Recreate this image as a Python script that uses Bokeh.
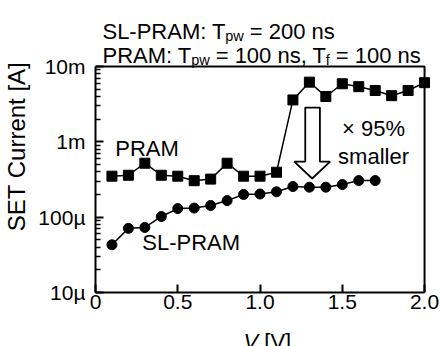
import json
import math
from bokeh.plotting import figure
from bokeh.layouts import column
from bokeh.models import Label, FixedTicker, CustomJSTickFormatter, Range1d
from bokeh.core.properties import value
from bokeh.embed import file_html
from bokeh.resources import INLINE

# ---------------- data ----------------
voltage = [0.1, 0.2, 0.3, 0.4, 0.5, 0.6, 0.7, 0.8, 0.9, 1.0,
           1.1, 1.2, 1.3, 1.4, 1.5, 1.6, 1.7, 1.8, 1.9, 2.0]
pram_current = [3.5e-4, 3.6e-4, 5.2e-4, 3.6e-4, 3.5e-4, 3.05e-4, 3.2e-4, 5.2e-4, 3.5e-4, 3.5e-4,
                3.95e-4, 3.6e-3, 6.2e-3, 4.0e-3, 5.9e-3, 5.4e-3, 4.8e-3, 4.1e-3, 4.8e-3, 6.1e-3]
sl_voltage = [0.1, 0.2, 0.3, 0.4, 0.5, 0.6, 0.7, 0.8, 0.9, 1.0,
              1.1, 1.2, 1.3, 1.4, 1.5, 1.6, 1.7]
sl_current = [4.3e-5, 7.1e-5, 7.3e-5, 1.02e-4, 1.3e-4, 1.32e-4, 1.43e-4, 1.66e-4, 2.0e-4, 2.03e-4,
              2.17e-4, 2.55e-4, 2.5e-4, 2.5e-4, 2.71e-4, 3.06e-4, 3.06e-4]

x_min, x_max = 0.0, 2.0
y_min, y_max = 1e-5, 1e-2
x_ticks = [0, 0.5, 1.0, 1.5, 2.0]
x_tick_labels = ["0", "0.5", "1.0", "1.5", "2.0"]
y_ticks = [1e-5, 1e-4, 1e-3, 1e-2]
y_tick_labels = ["10µ", "100µ", "1m", "10m"]

# hollow arrow outline (V, A)
arrow_x = [1.275, 1.364, 1.364, 1.426, 1.317, 1.208, 1.275]
arrow_y = [2.85e-3, 2.85e-3, 5.47e-4, 5.47e-4, 3.26e-4, 5.47e-4, 5.47e-4]

FONT = "Liberation Sans"
W_TOTAL, H_TOTAL = 440, 346
BOX_L, BOX_R, BOX_T, BOX_B = 93, 424, 66, 292     # visible plot box on the page
FRAME_R = 432                                      # bokeh frame extends a bit right of the box
XLAB_H = 26
MAIN_H = H_TOTAL - XLAB_H

px_per_x = (BOX_R - BOX_L) / (x_max - x_min)
px_per_dec = (BOX_B - BOX_T) / (math.log10(y_max) - math.log10(y_min))


def X(cx):
    return x_min + (cx - BOX_L) / px_per_x


def Y(cy):
    return 10 ** (math.log10(y_min) + (BOX_B - cy) / px_per_dec)


# ---------------- main figure ----------------
p = figure(width=W_TOTAL, height=MAIN_H, y_axis_type="log",
           x_range=Range1d(x_min, X(FRAME_R)), y_range=Range1d(y_min, Y(0)),
           output_backend="svg", toolbar_location=None, title_location=None,
           min_border_left=BOX_L, min_border_right=W_TOTAL - FRAME_R,
           min_border_top=0, min_border_bottom=MAIN_H - BOX_B)
p.background_fill_color = "white"
p.border_fill_color = "white"
p.outline_line_color = None
p.xgrid.visible = False
p.ygrid.visible = False

xa = p.xaxis[0]
xa.bounds = (x_min, x_max)
xa.ticker = FixedTicker(ticks=x_ticks, minor_ticks=[])
xa.formatter = CustomJSTickFormatter(code="""
const t = %s, l = %s;
for (let i = 0; i < t.length; i++) { if (Math.abs(t[i] - tick) < 1e-6) return l[i]; }
return "";
""" % (json.dumps(x_ticks), json.dumps(x_tick_labels)))
xa.major_tick_in = 8
xa.major_tick_out = 0
xa.minor_tick_in = 0
xa.minor_tick_out = 0
xa.axis_line_width = 2
xa.major_tick_line_width = 2
xa.major_label_text_font = FONT
xa.major_label_text_font_size = "21px"
xa.major_label_text_color = "black"
xa.major_label_standoff = 2

ya = p.yaxis[0]
ya.bounds = (y_min, y_max)
minor = [k * 10 ** d for d in (-5, -4, -3) for k in range(2, 10)]
ya.ticker = FixedTicker(ticks=y_ticks, minor_ticks=minor)
ya.formatter = CustomJSTickFormatter(code="""
const e = %s, l = %s;
const k = Math.round(Math.log10(tick));
for (let i = 0; i < e.length; i++) { if (e[i] === k) return l[i]; }
return "";
""" % (json.dumps([int(round(math.log10(t))) for t in y_ticks]), json.dumps(y_tick_labels)))
ya.major_tick_in = 8
ya.major_tick_out = 0
ya.minor_tick_in = 5
ya.minor_tick_out = 0
ya.axis_line_width = 2
ya.major_tick_line_width = 2
ya.minor_tick_line_width = 1.5
ya.major_label_text_font = FONT
ya.major_label_text_font_size = "21px"
ya.major_label_text_color = "black"
ya.major_label_standoff = 10
ya.axis_label = "SET Current [A]"
ya.axis_label_text_font = FONT
ya.axis_label_text_font_size = "24px"
ya.axis_label_text_font_style = "normal"
ya.axis_label_text_color = "black"
ya.axis_label_standoff = 5

# top and right edges of the plot box
p.line([x_min, x_max, x_max], [y_max, y_max, y_min], line_color="black", line_width=2)

p.line(voltage, pram_current, line_color="black", line_width=1.5)
p.scatter(voltage, pram_current, marker="square", size=10,
          fill_color="black", line_color="black")
p.line(sl_voltage, sl_current, line_color="black", line_width=1.5)
p.scatter(sl_voltage, sl_current, marker="circle", size=10,
          fill_color="black", line_color="black")
p.patch(arrow_x, arrow_y, fill_color="white", line_color="black", line_width=1.8)


def dlabel(x, y, text, align="left"):
    p.add_layout(Label(x=x, y=y, text=text, text_font=FONT, text_font_size="22px",
                       text_color="black", text_align=align, text_baseline="middle"))


dlabel(0.12, 8.2e-4, "PRAM")
dlabel(0.284, 4.6e-5, "SL-PRAM")
dlabel(1.69, 1.5e-3, "× 95%", "center")
dlabel(1.69, 6.4e-4, "smaller", "center")

# ---------------- title with subscripts ----------------
W = {' ': 278, ',': 278, '-': 333, '.': 278, ':': 278, '=': 584, 'A': 667, 'L': 556,
     'M': 833, 'P': 667, 'R': 722, 'S': 667, 'T': 611, 'f': 278, 'n': 556, 'p': 556,
     's': 500, 'w': 722, 'V': 667, '[': 278, ']': 278}
for c in "0123456789":
    W[c] = 556


def width(s, size):
    return sum(W.get(c, 556) for c in s) * size / 1000.0


def split_lead(txt):
    s = txt.lstrip(" ")
    return txt[:len(txt) - len(s)], s


def put_main(cx, cy, text, size):
    p.text(x=[X(cx)], y=[Y(cy)], text=[text], text_font=value(FONT),
           text_font_size=value(f"{size}px"), text_color="black",
           text_align="left", text_baseline="alphabetic")


def rich_line(x0, base, parts, big=22, small=14.5, drop=4):
    x = x0
    for txt, sub in parts:
        size = small if sub else big
        lead, body = split_lead(txt)
        x += width(lead, size)
        put_main(x, base + (drop if sub else 0), body, size)
        x += width(body, size)


rich_line(100, 31, [("SL-PRAM: T", False), ("pw", True), (" = 200 ns", False)])
rich_line(100, 55, [("PRAM: T", False), ("pw", True), (" = 100 ns, T", False),
                    ("f", True), (" = 100 ns", False)])

# ---------------- x-axis label strip ----------------
xf = figure(width=W_TOTAL, height=XLAB_H, x_range=Range1d(BOX_L, FRAME_R),
            y_range=Range1d(0, XLAB_H),
            output_backend="svg", toolbar_location=None, title_location=None,
            x_axis_location=None, y_axis_location=None,
            min_border_left=BOX_L, min_border_right=W_TOTAL - FRAME_R,
            min_border_top=0, min_border_bottom=0)
xf.outline_line_color = None
xf.xgrid.visible = False
xf.ygrid.visible = False
xf.background_fill_color = "white"
xf.border_fill_color = "white"


def put_strip(cx, cy, text, size, style):
    xf.text(x=[cx], y=[XLAB_H - (cy - MAIN_H)], text=[text], text_font=value(FONT),
            text_font_size=value(f"{size}px"), text_font_style=value(style),
            text_color="black", text_align="left", text_baseline="alphabetic")


xl_x = 242
put_strip(xl_x, 341, "V", 22, "italic")
put_strip(xl_x + width("V ", 22), 341, "[V]", 22, "normal")

layout = column(p, xf, spacing=0)
open("out.html", "w").write(file_html(layout, INLINE))
